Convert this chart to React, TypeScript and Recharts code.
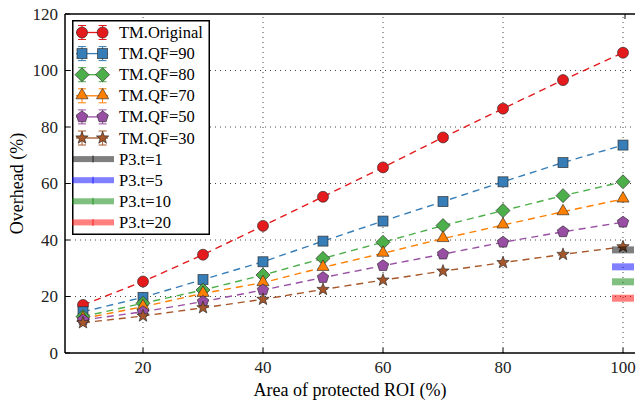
import React from 'react';
import {
    ComposedChart,
    Line,
    Scatter,
    XAxis,
    YAxis,
    ReferenceLine,
    Label,
} from 'recharts';

const xValues = [10, 20, 30, 40, 50, 60, 70, 80, 90, 100];
const tmOriginal = [17, 25.3, 34.8, 45, 55.3, 65.7, 76.3, 86.5, 96.6, 106.3];
const tmQf90 = [14.6, 19.7, 26, 32.3, 39.6, 46.7, 53.6, 60.6, 67.4, 73.6];
const tmQf80 = [12.9, 17.6, 22.3, 27.6, 33.5, 39.2, 45.1, 50.4, 55.7, 60.6];
const tmQf70 = [12.2, 16.4, 21.1, 24.9, 30.3, 35.3, 40.5, 45.3, 50, 54.5];
const tmQf50 = [11.7, 14.6, 18.2, 22.3, 26.7, 30.9, 35, 39.2, 42.9, 46.3];
const tmQf30 = [10.7, 13.1, 16, 19, 22.5, 25.8, 29, 32, 34.9, 37.6];

const p3Labels = ['P3.t=1', 'P3.t=5', 'P3.t=10', 'P3.t=20'];
const p3X = 100;
const p3Values = [36.5, 30.5, 25.2, 19.4];
const p3Colors = ['#000000', '#0000ff', '#008000', '#ff0000'];

const xDomain = [7, 102];
const yDomain = [0, 120];
const xTicks = [20, 40, 60, 80, 100];
const yTicks = [0, 20, 40, 60, 80, 100, 120];
const yGrid = [20, 40, 60, 80, 100];

const tmSeries = [
    { key: 'orig', name: 'TM.Original', values: tmOriginal, color: '#e41a1c', shape: 'circle' },
    { key: 'qf90', name: 'TM.QF=90', values: tmQf90, color: '#377eb8', shape: 'square' },
    { key: 'qf80', name: 'TM.QF=80', values: tmQf80, color: '#4daf4a', shape: 'diamond' },
    { key: 'qf70', name: 'TM.QF=70', values: tmQf70, color: '#ff7f00', shape: 'triangle' },
    { key: 'qf50', name: 'TM.QF=50', values: tmQf50, color: '#984ea3', shape: 'pentagon' },
    { key: 'qf30', name: 'TM.QF=30', values: tmQf30, color: '#a65628', shape: 'star' },
];

const rows = xValues.map((x, i) => {
    const row: any = { x };
    tmSeries.forEach(s => { row[s.key] = s.values[i]; });
    return row;
});

const FONT = '"Liberation Serif", "Times New Roman", serif';
const EDGE = 'rgba(40,40,40,0.8)';

function polygon(cx: number, cy: number, n: number, r: number, inner?: number) {
    const pts: string[] = [];
    const count = inner ? n * 2 : n;
    for (let i = 0; i < count; i++) {
        const rr = inner && i % 2 === 1 ? inner : r;
        const a = -Math.PI / 2 + (i * 2 * Math.PI) / count;
        pts.push(`${cx + rr * Math.cos(a)},${cy + rr * Math.sin(a)}`);
    }
    return pts.join(' ');
}

function Marker({ cx, cy, shape, color }: any) {
    const common = { fill: color, stroke: EDGE, strokeWidth: 0.8 };
    switch (shape) {
        case 'circle':
            return <circle cx={cx} cy={cy} r={5.5} {...common} />;
        case 'square':
            return <rect x={cx - 5} y={cy - 5} width={10} height={10} {...common} />;
        case 'diamond':
            return <polygon points={`${cx},${cy - 7} ${cx + 7},${cy} ${cx},${cy + 7} ${cx - 7},${cy}`} {...common} />;
        case 'triangle':
            return <polygon points={polygon(cx, cy - 0.5, 3, 7)} {...common} />;
        case 'pentagon':
            return <polygon points={polygon(cx, cy, 5, 6)} {...common} />;
        default:
            return <polygon points={polygon(cx, cy, 5, 6.5, 2.7)} {...common} />;
    }
}

// matplotlib style ticks point into the plot
const BottomTick = (p: any) => (
    <g>
        <line x1={p.x} x2={p.x} y1={p.y} y2={p.y - 5} stroke="#000" strokeWidth={1} />
        <text x={p.x} y={p.y + 14} textAnchor="middle" dominantBaseline="central" fontFamily={FONT} fontSize={17} fill="#222">
            {p.payload.value}
        </text>
    </g>
);

const TopTick = (p: any) => (
    <line x1={p.x} x2={p.x} y1={p.y} y2={p.y + 5} stroke="#000" strokeWidth={1} />
);

const LeftTick = (p: any) => (
    <g>
        <line x1={p.x} x2={p.x + 5} y1={p.y} y2={p.y} stroke="#000" strokeWidth={1} />
        <text x={p.x - 7} y={p.y} textAnchor="end" dominantBaseline="central" fontFamily={FONT} fontSize={17} fill="#222">
            {p.payload.value}
        </text>
    </g>
);

function LegendBox() {
    const rowH = 21.1;
    return (
        <svg width={138} height={215} style={{ position: 'absolute', left: 72, top: 20, display: 'block' }}>
            <rect x={0.75} y={0.75} width={136.5} height={213.5} fill="#fff" stroke="#000" strokeWidth={1.5} />
            {tmSeries.map((s, i) => {
                const y = 12.5 + i * rowH;
                return (
                    <g key={s.key}>
                        <line x1={4} x2={36} y1={y} y2={y} stroke={s.color} strokeWidth={1.3} />
                        {[10, 30.6].map(mx => (
                            <g key={mx}>
                                <line x1={mx} x2={mx} y1={y - 7} y2={y + 7} stroke={s.color} strokeWidth={1} />
                                <line x1={mx - 4} x2={mx + 4} y1={y - 7} y2={y - 7} stroke={s.color} strokeWidth={1} />
                                <line x1={mx - 4} x2={mx + 4} y1={y + 7} y2={y + 7} stroke={s.color} strokeWidth={1} />
                                <Marker cx={mx} cy={y} shape={s.shape} color={s.color} />
                            </g>
                        ))}
                        <text x={47} y={y} dominantBaseline="central" fontFamily={FONT} fontSize={16.5} fill="#000">{s.name}</text>
                    </g>
                );
            })}
            {p3Labels.map((name, i) => {
                const y = 12.5 + (i + 6) * rowH;
                return (
                    <g key={name}>
                        <rect x={0} y={y - 3} width={42} height={6} fill={p3Colors[i]} fillOpacity={0.5} />
                        <line x1={21} x2={21} y1={y - 3.5} y2={y + 3.5} stroke={p3Colors[i]} strokeOpacity={0.6} strokeWidth={1.2} />
                        <text x={47} y={y} dominantBaseline="central" fontFamily={FONT} fontSize={16.5} fill="#000">{name}</text>
                    </g>
                );
            })}
        </svg>
    );
}

export default function App() {
    return (
        <div style={{ position: 'absolute', left: 0, top: 0, width: 637, height: 403, overflow: 'hidden', background: '#fff' }}>
            <ComposedChart width={637} height={403} data={rows} margin={{ top: 4, right: 2, bottom: 10, left: 20 }}>
                <XAxis
                    dataKey="x"
                    type="number"
                    domain={xDomain}
                    ticks={xTicks}
                    height={40}
                    axisLine={{ stroke: '#000', strokeWidth: 1.5 }}
                    tickLine={false}
                    tickSize={0}
                    tickMargin={0}
                    tick={BottomTick}
                    allowDataOverflow
                >
                    <Label
                        content={({ viewBox }: any) => (
                            <text x={viewBox.x + viewBox.width / 2} y={viewBox.y + 37} textAnchor="middle" dominantBaseline="central" fontFamily={FONT} fontSize={18} fill="#000">
                                Area of protected ROI (%)
                            </text>
                        )}
                    />
                </XAxis>
                <XAxis
                    xAxisId="top"
                    orientation="top"
                    type="number"
                    domain={xDomain}
                    ticks={xTicks}
                    height={10}
                    axisLine={{ stroke: '#000', strokeWidth: 1.5 }}
                    tickLine={false}
                    tickSize={0}
                    tickMargin={0}
                    tick={TopTick}
                    allowDataOverflow
                />
                <YAxis
                    type="number"
                    domain={yDomain}
                    ticks={yTicks}
                    width={45}
                    axisLine={{ stroke: '#000', strokeWidth: 1.5 }}
                    tickLine={false}
                    tickSize={0}
                    tickMargin={0}
                    tick={LeftTick}
                    allowDataOverflow
                >
                    <Label
                        content={({ viewBox }: any) => {
                            const cx = viewBox.x + viewBox.width - 48;
                            const cy = viewBox.y + viewBox.height / 2;
                            return (
                                <text x={cx} y={cy} transform={`rotate(-90, ${cx}, ${cy})`} textAnchor="middle" dominantBaseline="central" fontFamily={FONT} fontSize={18} fill="#000">
                                    Overhead (%)
                                </text>
                            );
                        }}
                    />
                </YAxis>
                {xTicks.map(t => (
                    <ReferenceLine key={`gx${t}`} x={t} stroke="#444" strokeDasharray="1 4" strokeWidth={1} />
                ))}
                {yGrid.map(t => (
                    <ReferenceLine key={`gy${t}`} y={t} stroke="#444" strokeDasharray="1 4" strokeWidth={1} />
                ))}
                {tmSeries.map(s => (
                    <Line
                        key={s.key}
                        dataKey={s.key}
                        name={s.name}
                        stroke={s.color}
                        strokeWidth={1.4}
                        strokeDasharray="7 5"
                        isAnimationActive={false}
                        dot={(p: any) => <Marker key={`${s.key}-${p.index}`} cx={p.cx} cy={p.cy} shape={s.shape} color={s.color} />}
                        activeDot={false}
                    />
                ))}
                {p3Values.map((v, i) => (
                    <Scatter
                        key={p3Labels[i]}
                        name={p3Labels[i]}
                        data={[{ x: p3X, y: v }]}
                        dataKey="y"
                        isAnimationActive={false}
                        shape={(p: any) => (
                            <rect x={p.cx - 11} y={p.cy - 3.5} width={22} height={7} fill={p3Colors[i]} fillOpacity={0.5} />
                        )}
                    />
                ))}
            </ComposedChart>
            <LegendBox />
        </div>
    );
}
